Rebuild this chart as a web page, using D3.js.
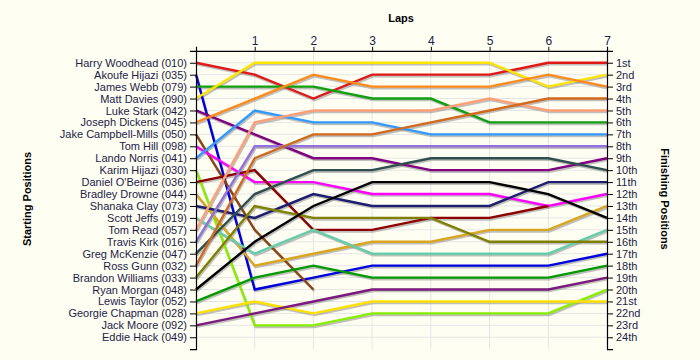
<!DOCTYPE html>
<html>
<head>
<meta charset="utf-8">
<script src="https://cdn.jsdelivr.net/npm/d3@7"></script>
<style>
  html, body { margin: 0; padding: 0; background: #FFFEF3; }
  svg { display: block; font-family: "Liberation Sans", Arial, sans-serif; }
</style>
</head>
<body>
<svg id="chart" width="700" height="360"></svg>
<script>
const laps = [0, 1, 2, 3, 4, 5, 6, 7];
const lapTickLabels = ["1", "2", "3", "4", "5", "6", "7"];
const drivers = [
  "Harry Woodhead (010)", "Akoufe Hijazi (035)", "James Webb (079)", "Matt Davies (090)",
  "Luke Stark (042)", "Joseph Dickens (045)", "Jake Campbell-Mills (050)", "Tom Hill (098)",
  "Lando Norris (041)", "Karim Hijazi (030)", "Daniel O'Beirne (036)", "Bradley Drowne (044)",
  "Shanaka Clay (073)", "Scott Jeffs (019)", "Tom Read (057)", "Travis Kirk (016)",
  "Greg McKenzie (047)", "Ross Gunn (032)", "Brandon Williams (033)", "Ryan Morgan (048)",
  "Lewis Taylor (052)", "Georgie Chapman (028)", "Jack Moore (092)", "Eddie Hack (049)"
];
const finishLabels = ["1st","2nd","3rd","4th","5th","6th","7th","8th","9th","10th","11th","12th",
  "13th","14th","15th","16th","17th","18th","19th","20th","21st","22nd","23rd","24th"];
// positions per lap (lap 0 .. lap 7); null = not running
const positions = [
  [1, 2, 4, 2, 2, 2, 1, 1],
  [2, 20, 19, 18, 18, 18, 18, 17],
  [3, 3, 3, 4, 4, 6, 6, 6],
  [4, 1, 1, 1, 1, 1, 3, 2],
  [5, 7, 9, 9, 10, 10, 10, 9],
  [6, 4, 2, 3, 3, 3, 2, 3],
  [7, 15, 20, null, null, null, null, null],
  [8, 11, 11, 12, 12, 12, 13, 12],
  [9, 5, 6, 6, 7, 7, 7, 7],
  [10, 23, 23, 22, 22, 22, 22, 20],
  [11, 10, 15, 15, 14, 14, 13, null],
  [12, 18, 17, 16, 16, 15, 15, 13],
  [13, 14, 12, 13, 13, 13, 11, 11],
  [14, 17, 15, 17, 17, 17, 17, 15],
  [15, 6, 5, 5, 5, 4, 5, 5],
  [16, 8, 8, 8, 8, 8, 8, 8],
  [17, 12, 10, 10, 9, 9, 9, 10],
  [18, 9, 7, 7, 6, 5, 4, 4],
  [19, 13, 14, 14, 14, 16, 16, 16],
  [20, 16, 13, 11, 11, 11, 12, 14],
  [21, 19, 18, 19, 19, 19, 19, 18],
  [22, 21, 22, 21, 21, 21, 21, 21],
  [23, 22, 21, 20, 20, 20, 20, 19],
  [null, null, null, null, null, null, null, null]
];
const colors = [
  "#E01818", "#0000DD", "#12A012", "#FFE400", "#800080", "#FF8A1A",
  "#8B4513", "#FF00FF", "#3399FF", "#88EE00", "#8E0000", "#DAA520",
  "#1E1E6E", "#66CDAA", "#FFA07A", "#9370DB", "#2F4F4F", "#D2691E",
  "#808000", "#000000", "#009A00", "#FFE000", "#7A1A7A", "#999999"
];

const svg = d3.select("#chart");
const W = 700, H = 360;
svg.append("rect").attr("width", W).attr("height", H).attr("fill", "#FFFEF3");

const x = d3.scaleLinear().domain([0, 7]).range([196, 607]);
const y = d3.scaleLinear().domain([0, 25]).range([50.8, 349.2]);
const posTicks = d3.range(1, 25);

// grid
const grid = svg.append("g");
grid.selectAll("line.h").data(posTicks).join("line")
  .attr("x1", x(0)).attr("x2", x(7))
  .attr("y1", d => y(d)).attr("y2", d => y(d))
  .attr("stroke", "#E6E6E6").attr("stroke-width", 1);
grid.selectAll("line.v").data(laps.slice(1, 7)).join("line")
  .attr("x1", d => x(d)).attr("x2", d => x(d))
  .attr("y1", y(0)).attr("y2", y(25))
  .attr("stroke", "#E6E6E6").attr("stroke-width", 1);

// lines
const line = d3.line()
  .defined(d => d.p !== null)
  .x(d => x(d.lap))
  .y(d => y(d.p));
const series = positions.map((arr, i) => ({
  name: drivers[i], color: colors[i],
  pts: arr.map((p, j) => ({ lap: laps[j], p: p }))
})).filter(s => s.pts.some(d => d.p !== null));

const shadows = svg.append("g").attr("transform", "translate(1,1.6)");
shadows.selectAll("path").data(series).join("path")
  .attr("d", d => line(d.pts))
  .attr("fill", "none").attr("stroke", "#8C8C8C").attr("stroke-opacity", 0.55)
  .attr("stroke-width", 2.4).attr("stroke-linejoin", "miter");
const lines = svg.append("g");
lines.selectAll("path").data(series).join("path")
  .attr("d", d => line(d.pts))
  .attr("fill", "none").attr("stroke", d => d.color)
  .attr("stroke-width", 2.4).attr("stroke-linejoin", "miter");

// axes
const textColor = "#1C1C48";
const leftAxis = d3.axisLeft(y).tickValues(posTicks)
  .tickFormat(d => drivers[d - 1]).tickSizeInner(6).tickSizeOuter(6).tickPadding(3);
const gl = svg.append("g").attr("transform", `translate(${x(0)},0)`).call(leftAxis);
const rightAxis = d3.axisRight(y).tickValues(posTicks)
  .tickFormat(d => finishLabels[d - 1]).tickSizeInner(6).tickSizeOuter(6).tickPadding(3);
const gr = svg.append("g").attr("transform", `translate(${x(7)},0)`).call(rightAxis);
const topAxis = d3.axisTop(x).tickValues([1, 2, 3, 4, 5, 6, 7])
  .tickFormat((d, i) => lapTickLabels[i]).tickSizeInner(4).tickSizeOuter(4).tickPadding(2);
const gt = svg.append("g").attr("transform", `translate(0,${y(0)})`).call(topAxis);

[gl, gr, gt].forEach(g => {
  g.selectAll("path.domain").attr("stroke", "#000").attr("stroke-width", 1.2);
  g.selectAll(".tick line").attr("stroke", "#000");
  g.selectAll(".tick text").attr("fill", textColor).attr("font-size", 11)
    .attr("font-family", "'Liberation Sans', Arial, sans-serif");
});
gt.selectAll(".tick text").attr("font-size", 12);

// titles
svg.append("text").attr("x", 401).attr("y", 22).attr("text-anchor", "middle")
  .attr("font-size", 11).attr("font-weight", "bold").attr("fill", "#000").text("Laps");
svg.append("text").attr("transform", "translate(31,199) rotate(-90)")
  .attr("text-anchor", "middle").attr("font-size", 11).attr("font-weight", "bold")
  .attr("fill", "#000").text("Starting Positions");
svg.append("text").attr("transform", "translate(661,199) rotate(90)")
  .attr("text-anchor", "middle").attr("font-size", 11).attr("font-weight", "bold")
  .attr("fill", "#000").text("Finishing Positions");
</script>
</body>
</html>
